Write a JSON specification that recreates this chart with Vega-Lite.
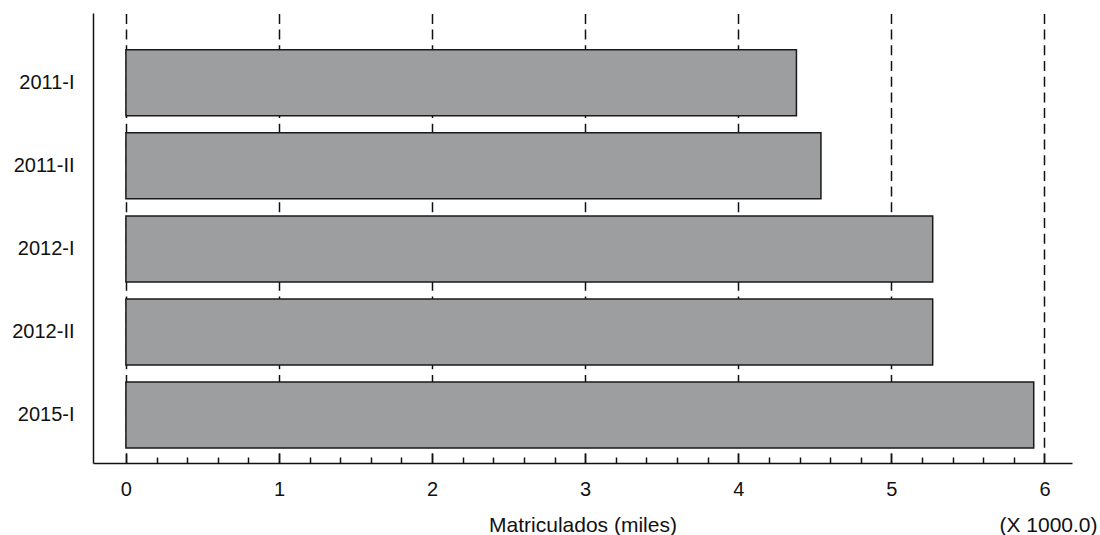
{
  "$schema": "https://vega.github.io/schema/vega-lite/v6.json",
  "width": 979,
  "height": 450,
  "autosize": {"type": "none"},
  "padding": {"left": 93, "top": 13, "right": 28, "bottom": 72},
  "background": "white",
  "config": {
    "view": {"stroke": null},
    "font": "Liberation Sans",
    "axis": {"labelFont": "Liberation Sans", "titleFont": "Liberation Sans", "labelColor": "#111", "titleColor": "#111", "titleFontWeight": "normal"}
  },
  "data": {
    "values": [
      {"periodo": "2011-I", "matriculados": 4.38},
      {"periodo": "2011-II", "matriculados": 4.54},
      {"periodo": "2012-I", "matriculados": 5.27},
      {"periodo": "2012-II", "matriculados": 5.27},
      {"periodo": "2015-I", "matriculados": 5.93}
    ]
  },
  "resolve": {"axis": {"x": "independent"}},
  "layer": [
    {
      "mark": {"type": "point", "opacity": 0},
      "encoding": {
        "x": {
          "field": "matriculados", "type": "quantitative",
          "scale": {"domain": [-0.215, 6.18], "nice": false, "zero": false},
          "axis": {
            "orient": "bottom",
            "values": [0, 1, 2, 3, 4, 5, 6],
            "labels": false, "ticks": false, "title": null,
            "domain": true, "domainColor": "#111", "domainWidth": 1.5,
            "grid": true, "gridColor": "#111", "gridWidth": 1.5, "gridDash": [10, 5.7]
          }
        },
        "y": {
          "field": "periodo", "type": "nominal", "sort": null,
          "scale": {"paddingInner": 0.205, "paddingOuter": 0.3125, "align": 0.71},
          "axis": {
            "title": null, "ticks": false, "tickSize": 0,
            "domain": true, "domainColor": "#111", "domainWidth": 1.5,
            "labelFontSize": 20, "labelPadding": 19, "labelAlign": "right"
          }
        }
      }
    },
    {
      "mark": {"type": "point", "opacity": 0},
      "encoding": {
        "x": {
          "field": "matriculados", "type": "quantitative",
          "scale": {"domain": [-0.215, 6.18], "nice": false, "zero": false},
          "axis": {
            "orient": "bottom", "offset": -6,
            "values": [0.2, 0.4, 0.6, 0.8, 1.2, 1.4, 1.6, 1.8, 2.2, 2.4, 2.6, 2.8, 3.2, 3.4, 3.6, 3.8, 4.2, 4.4, 4.6, 4.8, 5.2, 5.4, 5.6, 5.8],
            "labels": false, "domain": false, "grid": false,
            "ticks": true, "tickSize": 6, "tickColor": "#111", "tickWidth": 1.5,
            "title": "(X 1000.0)", "titleFontSize": 21, "titleAnchor": "end",
            "titleAlign": "right", "titleX": 1004, "titleY": 74, "titleBaseline": "alphabetic"
          }
        },
        "y": {
          "field": "periodo", "type": "nominal", "sort": null,
          "scale": {"paddingInner": 0.205, "paddingOuter": 0.3125, "align": 0.71},
          "axis": {
            "title": null, "ticks": false, "tickSize": 0,
            "domain": true, "domainColor": "#111", "domainWidth": 1.5,
            "labelFontSize": 20, "labelPadding": 19, "labelAlign": "right"
          }
        }
      }
    },
    {
      "mark": {"type": "bar", "fill": "#9d9ea0", "stroke": "#1a1a1a", "strokeWidth": 1.5},
      "encoding": {
        "x": {
          "field": "matriculados", "type": "quantitative",
          "scale": {"domain": [-0.215, 6.18], "nice": false, "zero": false},
          "axis": {
            "orient": "bottom", "offset": -10,
            "values": [0, 1, 2, 3, 4, 5, 6],
            "format": "d",
            "domain": false, "grid": false,
            "ticks": true, "tickSize": 10, "tickColor": "#111", "tickWidth": 1.5,
            "labelFontSize": 20, "labelPadding": 16, "labelBaseline": "top",
            "title": "Matriculados (miles)", "titleFontSize": 21,
            "titleY": 78, "titleBaseline": "alphabetic"
          }
        },
        "x2": {"datum": 0},
        "y": {
          "field": "periodo", "type": "nominal", "sort": null,
          "scale": {"paddingInner": 0.205, "paddingOuter": 0.3125, "align": 0.71},
          "axis": {
            "title": null, "ticks": false, "tickSize": 0,
            "domain": true, "domainColor": "#111", "domainWidth": 1.5,
            "labelFontSize": 20, "labelPadding": 19, "labelAlign": "right"
          }
        }
      }
    }
  ]
}
